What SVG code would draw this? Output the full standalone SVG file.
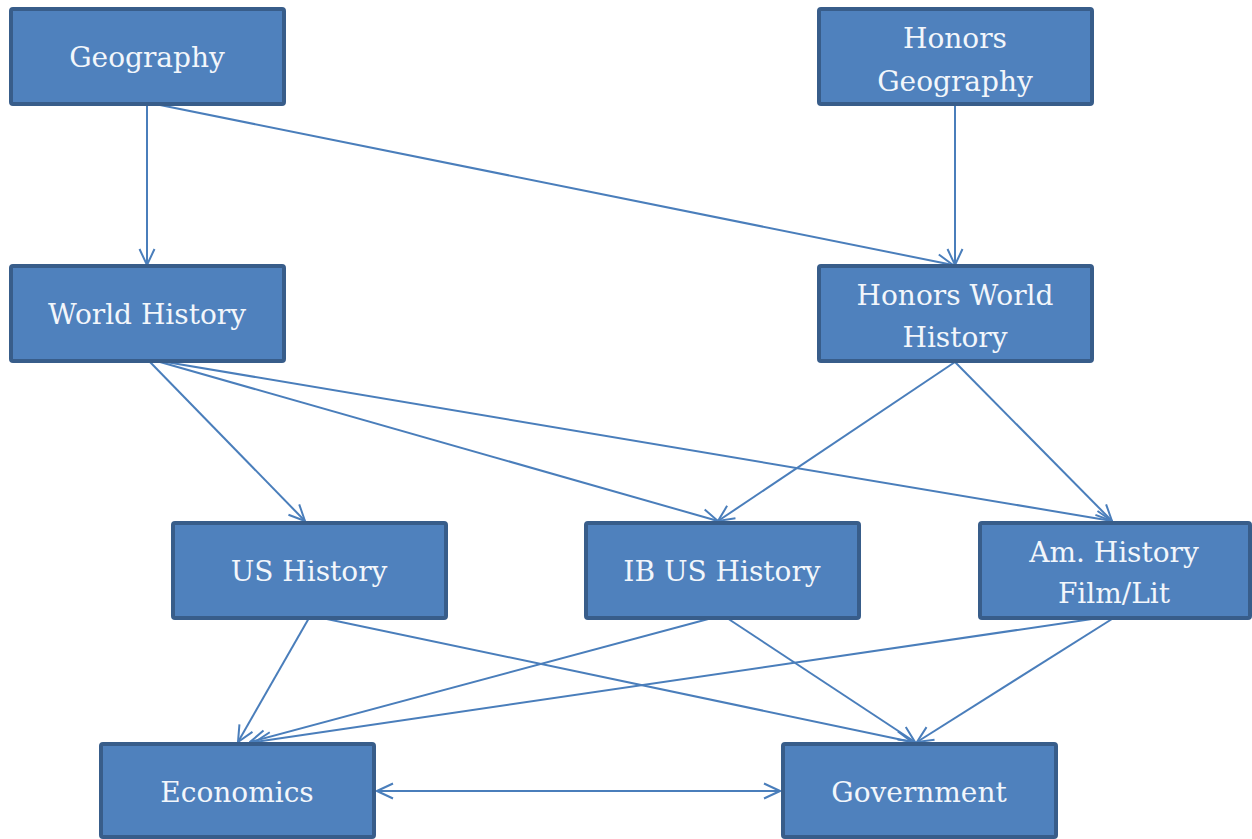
<svg xmlns="http://www.w3.org/2000/svg" width="1252" height="839" viewBox="0 0 1252 839">
<style>
.box{fill:#4F81BD;stroke:#385D8A;stroke-width:4}
.lbl{font-family:"DejaVu Serif","Liberation Serif",serif;font-size:28px;fill:#F2F6FB;text-anchor:middle}
.edge{stroke:#4A7EBB;stroke-width:2;fill:none;marker-end:url(#arr)}
</style>
<defs>
<marker id="arr" viewBox="0 0 18 18" refX="17" refY="9" markerWidth="18" markerHeight="18" markerUnits="userSpaceOnUse" orient="auto">
<path d="M1,1.5 L17,9 L1,16.5" fill="none" stroke="#4A7EBB" stroke-width="2"/>
</marker>
<marker id="arrs" viewBox="0 0 18 18" refX="1" refY="9" markerWidth="18" markerHeight="18" markerUnits="userSpaceOnUse" orient="auto">
<path d="M17,1.5 L1,9 L17,16.5" fill="none" stroke="#4A7EBB" stroke-width="2"/>
</marker>
</defs>
<rect width="1252" height="839" fill="#FFFFFF"/>
<g id="connectors">
<line class="edge" x1="147" y1="105" x2="147" y2="265"/>
<line class="edge" x1="160" y1="105" x2="953" y2="265"/>
<line class="edge" x1="955" y1="105" x2="955" y2="265"/>
<line class="edge" x1="150" y1="362" x2="305" y2="521"/>
<line class="edge" x1="160" y1="362" x2="718" y2="521"/>
<line class="edge" x1="166" y1="362" x2="1112" y2="521"/>
<line class="edge" x1="955" y1="362" x2="718" y2="521"/>
<line class="edge" x1="955" y1="362" x2="1112" y2="521"/>
<line class="edge" x1="309" y1="618" x2="238" y2="742"/>
<line class="edge" x1="322" y1="618" x2="912" y2="742"/>
<line class="edge" x1="712" y1="618" x2="250" y2="742"/>
<line class="edge" x1="727" y1="618" x2="915" y2="742"/>
<line class="edge" x1="1092" y1="619" x2="255" y2="742"/>
<line class="edge" x1="1112" y1="619" x2="917" y2="742"/>
<line class="edge" x1="377" y1="791" x2="780" y2="791" marker-start="url(#arrs)"/>
</g>
<g id="geography">
<rect class="box" x="11" y="9" width="273" height="95" rx="2"/>
<text class="lbl" x="147" y="67">Geography</text>
</g>
<g id="honors-geography">
<rect class="box" x="819" y="9" width="273" height="95" rx="2"/>
<text class="lbl" x="955" y="48">Honors</text>
<text class="lbl" x="955" y="91">Geography</text>
</g>
<g id="world-history">
<rect class="box" x="11" y="266" width="273" height="95" rx="2"/>
<text class="lbl" x="147" y="324">World History</text>
</g>
<g id="honors-world-history">
<rect class="box" x="819" y="266" width="273" height="95" rx="2"/>
<text class="lbl" x="955" y="305">Honors World</text>
<text class="lbl" x="955" y="347">History</text>
</g>
<g id="us-history">
<rect class="box" x="173" y="523" width="273" height="95" rx="2"/>
<text class="lbl" x="309" y="581">US History</text>
</g>
<g id="ib-us-history">
<rect class="box" x="586" y="523" width="273" height="95" rx="2"/>
<text class="lbl" x="722" y="581">IB US History</text>
</g>
<g id="am-history-film-lit">
<rect class="box" x="980" y="523" width="270" height="95" rx="2"/>
<text class="lbl" x="1114" y="562">Am. History</text>
<text class="lbl" x="1114" y="603">Film/Lit</text>
</g>
<g id="economics">
<rect class="box" x="101" y="744" width="273" height="93" rx="2"/>
<text class="lbl" x="237" y="802">Economics</text>
</g>
<g id="government">
<rect class="box" x="783" y="744" width="273" height="93" rx="2"/>
<text class="lbl" x="919" y="802">Government</text>
</g>
</svg>
